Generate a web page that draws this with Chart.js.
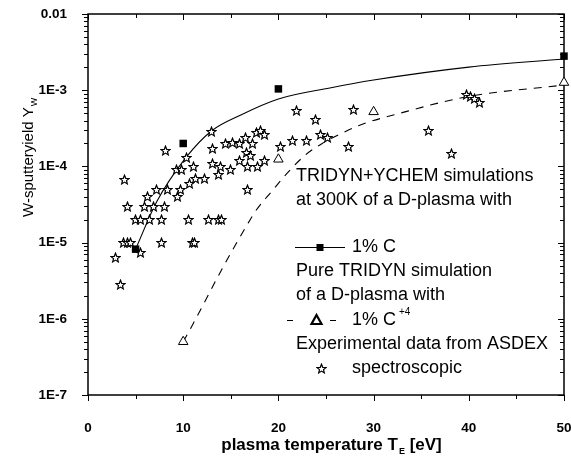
<!DOCTYPE html>
<html>
<head>
<meta charset="utf-8">
<script src="https://cdn.jsdelivr.net/npm/chart.js@4.4.1/dist/chart.umd.min.js"></script>
<style>
html, body { margin: 0; padding: 0; background: #fff; }
canvas { display: block; }
</style>
</head>
<body>
<canvas id="c1" width="571" height="456"></canvas>
<script>
// axis ticks
let yTicks = [1e-7, 1e-6, 1e-5, 1e-4, 1e-3, 1e-2];
let yTickLabels = ['1E-7', '1E-6', '1E-5', '1E-4', '1E-3', '0.01'];

// TRIDYN+YCHEM, 1% C (squares) + fitted curve
let ychemT = [5, 10, 20, 50];
let ychemY = [8.2e-6, 2.0e-4, 1.04e-3, 2.8e-3];
let ychemFitT = [5, 7.2, 10.3, 13, 16, 20, 25.4, 30, 40, 50];
let ychemFitY = [8.2e-6, 3.4e-5, 1.31e-4, 2.94e-4, 4.7e-4, 7.67e-4, 1.07e-3, 1.36e-3, 2.01e-3, 2.57e-3];

// pure TRIDYN, 1% C+4 (triangles) + fitted curve
let tridynT = [10, 20, 30, 50];
let tridynY = [5e-7, 1.24e-4, 5.2e-4, 1.26e-3];
let tridynFitT = [10, 11.06, 14.2, 16.7, 17.7, 19.3, 20.9, 22.8, 24.6, 26.6, 28.6, 32.8, 39.8, 50];
let tridynFitY = [5e-7, 8.7e-7, 4.8e-6, 1.7e-5, 2.7e-5, 4.7e-5, 8.1e-5, 1.4e-4, 2.0e-4, 2.7e-4,
                  3.5e-4, 5.0e-4, 8.2e-4, 1.17e-3];

// ASDEX spectroscopic
let specT = [2.9, 3.4, 3.7, 4.2, 4.5, 3.8, 4.2, 5.0, 5.5, 5.5, 5.9, 6.2, 6.5, 6.9, 7.2, 7.7, 7.7, 8.0,
             8.3, 8.1, 9.3, 9.4, 9.7, 9.85, 10.3, 10.6, 10.7, 11.0, 11.2, 11.1, 11.3, 12.2, 12.7, 13.0,
             13.05, 13.1, 13.7, 13.7, 13.9, 14.0, 14.4, 14.95, 15.2, 15.9, 15.9, 16.5, 16.6, 16.8, 16.8,
             17.1, 17.3, 17.7, 17.8, 18.1, 18.5, 18.5, 20.2, 21.5, 21.85, 23.0, 23.85, 24.4, 25.2, 27.4,
             27.9, 35.75, 38.2, 39.8, 40.2, 40.6, 41.1];
let specY = [6.4e-6, 2.8e-6, 1.0e-5, 1.0e-5, 1.0e-5, 6.8e-5, 3.0e-5, 2.0e-5, 2.0e-5, 7.4e-6, 3.0e-5,
             4.0e-5, 2.0e-5, 3.0e-5, 5.0e-5, 2.0e-5, 1.0e-5, 3.0e-5, 5.0e-5, 1.6e-4, 9.1e-5, 4.0e-5,
             5.0e-5, 9.0e-5, 1.32e-4, 2.0e-5, 6.0e-5, 1.0e-5, 1.0e-5, 9.9e-5, 7.0e-5, 7.0e-5, 2.0e-5,
             2.9e-4, 1.1e-4, 1.7e-4, 2.0e-5, 7.9e-5, 1.0e-4, 2.0e-5, 2.0e-4, 9.0e-5, 2.07e-4, 2.0e-4,
             1.19e-4, 2.4e-4, 1.53e-4, 9.9e-5, 5.0e-5, 1.4e-4, 2.0e-4, 2.8e-4, 9.9e-5, 3.0e-4, 2.6e-4,
             1.19e-4, 1.8e-4, 2.2e-4, 5.4e-4, 2.2e-4, 4.1e-4, 2.6e-4, 2.4e-4, 1.8e-4, 5.6e-4, 3.0e-4,
             1.49e-4, 8.7e-4, 8.3e-4, 7.9e-4, 6.9e-4];

const FONT = '"Liberation Sans", Arial, Helvetica, sans-serif';

function pts(xs, ys) {
    return xs.map((x, i) => ({ x: x, y: ys[i] }));
}

function starImg(size, r1, r2) {
    let cv = document.createElement('canvas');
    cv.width = size; cv.height = size;
    let c = cv.getContext('2d');
    c.beginPath();
    for (let i = 0; i < 10; i++) {
        let r = i % 2 ? r2 : r1;
        let a = -Math.PI / 2 + i * Math.PI / 5;
        c.lineTo(size / 2 + r * Math.cos(a), size / 2 + r * Math.sin(a) + 0.5);
    }
    c.closePath();
    c.fillStyle = '#fff';
    c.fill();
    c.lineWidth = 1.2;
    c.strokeStyle = '#000';
    c.stroke();
    return cv;
}
let star = starImg(11, 4.8, 2.1);

// frame + tick marks, drawn under the points
const framePlugin = {
    id: 'framePlugin',
    beforeDatasetsDraw(chart) {
        let ctx = chart.ctx;
        let a = chart.chartArea;
        let xs = chart.scales.x, ys = chart.scales.y;
        ctx.save();
        ctx.strokeStyle = '#000';
        ctx.lineWidth = 1;
        ctx.beginPath();
        for (let v = 0; v <= 50; v += 5) {
            let px = Math.round(xs.getPixelForValue(v)) + 0.5;
            let len = v % 10 === 0 ? 6 : 4;
            ctx.moveTo(px, a.bottom); ctx.lineTo(px, a.bottom + len);
            ctx.moveTo(px, a.top); ctx.lineTo(px, a.top + len);
        }
        for (let e = -7; e <= -2; e++) {
            for (let m = 1; m <= 9; m++) {
                let v = m * Math.pow(10, e);
                if (v > 1.0001e-2) break;
                let py = Math.round(ys.getPixelForValue(v)) + 0.5;
                let len = m === 1 ? 6 : 4;
                ctx.moveTo(a.left - len, py); ctx.lineTo(a.left, py);
                ctx.moveTo(a.right - len, py); ctx.lineTo(a.right, py);
            }
        }
        ctx.stroke();
        ctx.lineWidth = 1.5;
        ctx.strokeRect(a.left, a.top, a.right - a.left, a.bottom - a.top);
        ctx.restore();
        ctx.imageSmoothingEnabled = false;
    },
    afterDatasetsDraw(chart) {
        chart.ctx.imageSmoothingEnabled = true;
    },
    afterDraw(chart) {
        let ctx = chart.ctx;
        ctx.save();
        ctx.fillStyle = '#000';
        ctx.strokeStyle = '#000';

        // y title with subscript
        ctx.save();
        ctx.translate(33, 217);
        ctx.rotate(-Math.PI / 2);
        ctx.font = '15px ' + FONT;
        ctx.textBaseline = 'alphabetic';
        ctx.textAlign = 'left';
        let t1 = 'W-sputteryield Y';
        ctx.fillText(t1, 0, 0);
        let w1 = ctx.measureText(t1).width;
        ctx.font = '9px ' + FONT;
        ctx.fillText('W', w1 + 1, 4);
        ctx.restore();

        // x title with subscript
        ctx.textBaseline = 'alphabetic';
        ctx.textAlign = 'left';
        let a1 = 'plasma temperature T', a2 = 'E', a3 = ' [eV]';
        ctx.font = 'bold 17px ' + FONT;
        let wa1 = ctx.measureText(a1).width, wa3 = ctx.measureText(a3).width;
        ctx.font = 'bold 9px ' + FONT;
        let wa2 = ctx.measureText(a2).width;
        let x0 = 331 - (wa1 + wa2 + wa3) / 2;
        ctx.font = 'bold 17px ' + FONT;
        ctx.fillText(a1, x0, 450);
        ctx.fillText(a3, x0 + wa1 + wa2 + 1, 450);
        ctx.font = 'bold 9px ' + FONT;
        ctx.fillText(a2, x0 + wa1 + 1, 454);

        // legend
        ctx.font = '18px ' + FONT;
        ctx.textBaseline = 'middle';
        let lx = 296;
        ctx.fillText('TRIDYN+YCHEM simulations', lx, 176);
        ctx.fillText('at 300K of a D-plasma with', lx, 200);
        ctx.lineWidth = 1;
        ctx.beginPath();
        ctx.moveTo(295, 247.5); ctx.lineTo(345, 247.5);
        ctx.stroke();
        ctx.fillRect(316.5, 244, 7, 7);
        ctx.fillText('1% C', 352, 247);
        ctx.fillText('Pure TRIDYN simulation', lx, 271);
        ctx.fillText('of a D-plasma with', lx, 295);
        ctx.beginPath();
        ctx.moveTo(287, 320.5); ctx.lineTo(293, 320.5);
        ctx.moveTo(330, 320.5); ctx.lineTo(336, 320.5);
        ctx.stroke();
        ctx.lineWidth = 2.2;
        ctx.beginPath();
        ctx.moveTo(316.5, 315); ctx.lineTo(321.5, 324); ctx.lineTo(311.5, 324);
        ctx.closePath();
        ctx.stroke();
        ctx.fillText('1% C', 352, 320);
        let wc = ctx.measureText('1% C').width;
        ctx.font = '10px ' + FONT;
        ctx.fillText('+4', 352 + wc + 3, 312);
        ctx.font = '18px ' + FONT;
        ctx.fillText('Experimental data from ASDEX', lx, 344);
        ctx.drawImage(star, 316, 363);
        ctx.fillText('spectroscopic', 352, 368);
        ctx.restore();
    }
};

let c1 = document.querySelector('#c1');
let opts = {
    type: 'scatter',
    data: {
        datasets: [
            {
                label: '1% C',
                data: pts(ychemT, ychemY),
                pointStyle: 'rect',
                pointRadius: 5.3,
                backgroundColor: '#000',
                borderColor: '#000',
                borderWidth: 0,
                showLine: false,
                clip: false,
            },
            {
                label: '1% C+4',
                data: pts(tridynT, tridynY),
                pointStyle: 'triangle',
                pointRadius: 5.5,
                backgroundColor: '#fff',
                borderColor: '#000',
                borderWidth: 1,
                showLine: false,
                clip: false,
            },
            {
                label: 'spectroscopic',
                data: pts(specT, specY),
                pointStyle: star,
                pointRadius: 5,
                showLine: false,
                clip: false,
            },
            {
                label: 'YCHEM fit',
                data: pts(ychemFitT, ychemFitY),
                showLine: true,
                pointRadius: 0,
                borderColor: '#000',
                borderWidth: 1.1,
                cubicInterpolationMode: 'monotone',
            },
            {
                label: 'TRIDYN fit',
                data: pts(tridynFitT, tridynFitY),
                showLine: true,
                pointRadius: 0,
                borderColor: '#000',
                borderWidth: 1.1,
                borderDash: [8, 7],
                cubicInterpolationMode: 'monotone',
            },
        ],
    },
    options: {
        responsive: false,
        animation: false,
        devicePixelRatio: 1,
        layout: { padding: { left: 0, right: 7, top: 14, bottom: 0 } },
        plugins: {
            legend: { display: false },
            tooltip: { enabled: false },
        },
        scales: {
            x: {
                type: 'linear',
                min: 0,
                max: 50,
                grid: { display: false },
                border: { display: false },
                ticks: {
                    stepSize: 10,
                    padding: 17,
                    color: '#000',
                    maxRotation: 0,
                    font: { family: FONT, size: 13.5, weight: 'bold' },
                },
                afterFit: (s) => { s.height = 61; s.paddingLeft = 0; s.paddingRight = 0; },
            },
            y: {
                type: 'logarithmic',
                min: 1e-7,
                max: 1e-2,
                grid: { display: false },
                border: { display: false },
                afterBuildTicks: (s) => { s.ticks = yTicks.map(v => ({ value: v })); },
                ticks: {
                    autoSkip: false,
                    padding: 13,
                    color: '#000',
                    font: { family: FONT, size: 13.5, weight: 'bold' },
                    callback: (v, i) => yTickLabels[i],
                },
                afterFit: (s) => { s.width = 88; s.paddingTop = 0; s.paddingBottom = 0; },
            },
        },
    },
    plugins: [framePlugin],
};
let chart1 = new Chart(c1, opts);
</script>
</body>
</html>
